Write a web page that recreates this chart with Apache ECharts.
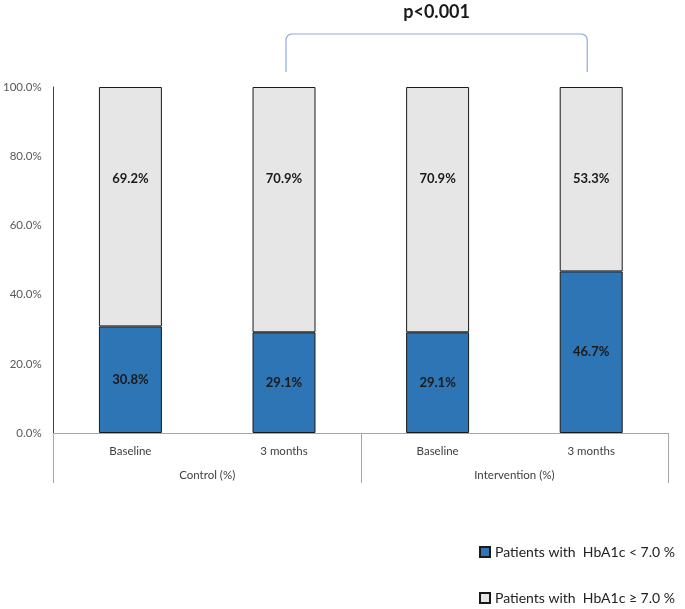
<!DOCTYPE html>
<html><head><meta charset="utf-8">
<script src="https://cdn.jsdelivr.net/npm/echarts@6/dist/echarts.min.js"></script>
<style>html,body{margin:0;padding:0;background:#fff}#c{width:685px;height:609px}</style>
</head><body><div id="c"></div>
<script>
var categories = ['Baseline', '3 months', 'Baseline', '3 months'];
var groups = ['Control (%)', 'Intervention (%)'];
var below7 = [30.8, 29.1, 29.1, 46.7];
var above7 = [69.2, 70.9, 70.9, 53.3];
var seriesNames = ['Patients with  HbA1c < 7.0 %', 'Patients with  HbA1c \u2265 7.0 %'];
var pText = 'p<0.001';

var FONT = 'Lato, "Open Sans", sans-serif';
var chart = echarts.init(document.getElementById('c'));
var option = {
  animation: false,
  textStyle: {fontFamily: FONT},
  grid: {left: 52, right: 17, top: 87, bottom: 176},
  legend: {
    orient: 'vertical', left: 474, top: 540, itemGap: 32,
    itemWidth: 10, itemHeight: 10, icon: 'rect', height: 69,
    textStyle: {fontSize: 14, color: '#222', fontFamily: FONT},
    data: seriesNames
  },
  xAxis: [{
    type: 'category', data: categories,
    axisLine: {lineStyle: {color: '#a6a6a6'}},
    axisTick: {show: false},
    axisLabel: {color: '#404040', fontSize: 11.5, margin: 12}
  }, {
    type: 'category', data: groups, position: 'bottom',
    axisLine: {show: false},
    axisTick: {show: true, length: 50, lineStyle: {color: '#a6a6a6'}},
    axisLabel: {color: '#404040', fontSize: 11.5, margin: 36}
  }],
  yAxis: {
    type: 'value', min: 0, max: 100, interval: 20,
    axisLine: {show: true, lineStyle: {color: '#404040'}},
    axisTick: {show: false},
    splitLine: {show: false},
    axisLabel: {color: '#595959', fontSize: 11.5, margin: 12,
      formatter: function (v) { return v.toFixed(1) + '%'; }}
  },
  series: [{
    name: seriesNames[0], type: 'bar', stack: 's', data: below7, barWidth: '41%',
    itemStyle: {color: '#2e75b6', borderColor: '#1a1a1a', borderWidth: 1},
    label: {show: true, position: 'inside', fontWeight: 'bold', fontSize: 13, color: '#1a1a1a',
      formatter: function (p) { return p.value.toFixed(1) + '%'; }}
  }, {
    name: seriesNames[1], type: 'bar', stack: 's', data: above7, barWidth: '41%',
    itemStyle: {color: '#e7e6e6', borderColor: '#1a1a1a', borderWidth: 1},
    label: {show: true, position: 'insideTop', distance: 85, fontWeight: 'bold', fontSize: 13, color: '#1a1a1a',
      formatter: function (p) { return p.value.toFixed(1) + '%'; }}
  }]
};
chart.setOption(option);

var x1 = chart.convertToPixel({xAxisIndex: 0}, 1) + 2;
var x2 = chart.convertToPixel({xAxisIndex: 0}, 3) - 4;
var yTop = chart.convertToPixel({yAxisIndex: 0}, 100);
var bTop = yTop - 53, bBot = yTop - 15, r = 6;
var pts = [[x1, bBot]];
for (var i = 0; i <= 8; i++) {
  var a = Math.PI - (Math.PI / 2) * (i / 8);
  pts.push([x1 + r + r * Math.cos(a), bTop + r - r * Math.sin(a)]);
}
for (var j = 0; j <= 8; j++) {
  var b = Math.PI / 2 - (Math.PI / 2) * (j / 8);
  pts.push([x2 - r + r * Math.cos(b), bTop + r - r * Math.sin(b)]);
}
pts.push([x2, bBot]);
chart.setOption({
  graphic: [{
    type: 'polyline',
    shape: {points: pts},
    style: {stroke: '#8eaadb', lineWidth: 1.2, fill: null}
  }, {
    type: 'text', x: (x1 + x2) / 2, y: 12,
    style: {text: pText, fontSize: 18, fontWeight: 'bold', fill: '#1a1a1a', fontFamily: FONT,
      align: 'center', verticalAlign: 'middle'}
  }]
});
</script></body></html>
